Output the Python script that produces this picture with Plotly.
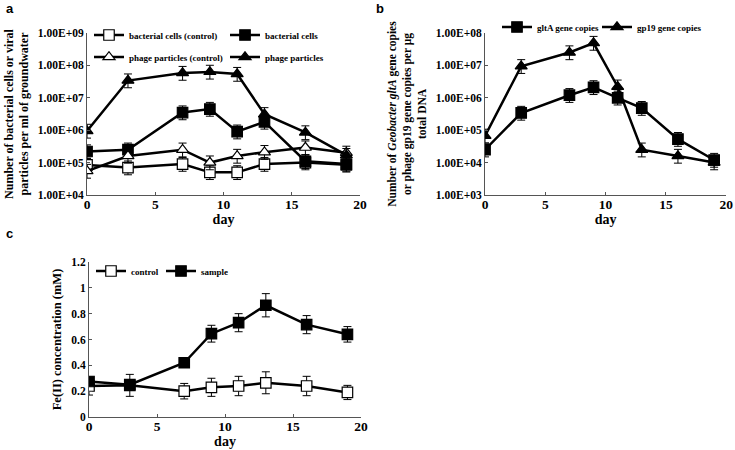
import plotly.graph_objects as go

# ---- data ----
days = [0, 3, 7, 9, 11, 13, 16, 19]

# panel a (cells or particles per ml groundwater)
bact_control = [8.5e4, 7.0e4, 9.0e4, 5.0e4, 5.0e4, 9.0e4, 1.0e5, 8.5e4]
bact_cells = [2.2e5, 2.5e5, 3.5e6, 4.5e6, 9.0e5, 1.8e6, 1.1e5, 9.0e4]
phage_control = [5.5e4, 1.6e5, 2.5e5, 1.0e5, 1.6e5, 2.1e5, 2.9e5, 2.0e5]
phage_particles = [9.5e5, 3.4e7, 5.8e7, 6.3e7, 5.4e7, 3.1e6, 8.5e5, 1.7e5]

# panel b (gene copies per ug DNA)
glta_copies = [2.5e4, 3.4e5, 1.2e6, 2.1e6, 1.0e6, 4.8e5, 5.3e4, 1.2e4]
gp19_copies = [6.7e4, 9.4e6, 2.5e7, 4.9e7, 2.2e6, 2.5e4, 1.6e4, 1.0e4]

# panel c (Fe(II) mM)
fe_control = [0.24, 0.245, 0.20, 0.23, 0.24, 0.265, 0.24, 0.19]
fe_control_err = [0.07, 0.085, 0.06, 0.07, 0.075, 0.085, 0.075, 0.055]
fe_sample = [0.275, 0.25, 0.42, 0.645, 0.73, 0.865, 0.715, 0.64]
fe_sample_err = [0.02, 0.02, 0.02, 0.065, 0.07, 0.09, 0.07, 0.06]

log_a_ticks = [1e4, 1e5, 1e6, 1e7, 1e8, 1e9]
log_a_text = ["1.00E+04", "1.00E+05", "1.00E+06", "1.00E+07", "1.00E+08", "1.00E+09"]
log_b_ticks = [1e3, 1e4, 1e5, 1e6, 1e7, 1e8]
log_b_text = ["1.00E+03", "1.00E+04", "1.00E+05", "1.00E+06", "1.00E+07", "1.00E+08"]
fe_ticks = [0, 0.2, 0.4, 0.6, 0.8, 1, 1.2]
fe_text = ["0", "0.2", "0.4", "0.6", "0.8", "1", "1.2"]
day_ticks = [0, 5, 10, 15, 20]

SERIF = "Liberation Serif"
LOG_ERR = dict(type="percent", value=60, valueminus=40, color="black", thickness=1, width=4)


def bold(labels):
    return ["<b>%s</b>" % t for t in labels]


def series(x, y, name, symbol, filled, xa, ya, legend, err=None):
    return go.Scatter(
        x=x, y=y, name="<b>%s</b>" % name, mode="lines+markers", xaxis=xa, yaxis=ya, legend=legend,
        line=dict(color="black", width=2.5),
        marker=dict(symbol=symbol, size=10.5, color="black" if filled else "white",
                    line=dict(color="black", width=1.2)),
        error_y=err,
    )


fig = go.Figure()
# panel a
fig.add_trace(series(days, bact_control, "bacterial cells (control)", "square", False, "x", "y", "legend", LOG_ERR))
fig.add_trace(series(days, bact_cells, "bacterial cells", "square", True, "x", "y", "legend", LOG_ERR))
fig.add_trace(series(days, phage_control, "phage particles (control)", "triangle-up", False, "x", "y", "legend2", LOG_ERR))
fig.add_trace(series(days, phage_particles, "phage particles", "triangle-up", True, "x", "y", "legend2", LOG_ERR))
# panel b
fig.add_trace(series(days, glta_copies, "gltA gene copies", "square", True, "x2", "y2", "legend3", LOG_ERR))
fig.add_trace(series(days, gp19_copies, "gp19 gene copies", "triangle-up", True, "x2", "y2", "legend5", LOG_ERR))
# panel c
fig.add_trace(series(days, fe_control, "control", "square", False, "x3", "y3", "legend4",
                     dict(type="data", array=fe_control_err, color="black", thickness=1, width=4)))
fig.add_trace(series(days, fe_sample, "sample", "square", True, "x3", "y3", "legend4",
                     dict(type="data", array=fe_sample_err, color="black", thickness=1, width=4)))

axis_common = dict(showline=True, linecolor="#555", linewidth=1, ticks="inside", ticklen=3,
                   tickcolor="#555", showgrid=False, zeroline=False, automargin=False)
x_common = dict(axis_common, range=[0, 20], tickvals=day_ticks, ticktext=bold(day_ticks),
                ticklabeloverflow="allow", ticklabelstandoff=-3,
                tickfont=dict(family=SERIF, size=13.5, color="black"))
day_title = dict(text="<b>day</b>", font=dict(family=SERIF, size=14, color="black"), standoff=2)
ytf = dict(family=SERIF, size=11.5, color="black")

fig.update_layout(
    width=735, height=450, margin=dict(l=0, r=0, t=0, b=0),
    paper_bgcolor="white", plot_bgcolor="white", showlegend=True,
    xaxis=dict(x_common, domain=[0.1184, 0.4898], anchor="y", title=day_title),
    yaxis=dict(axis_common, type="log", range=[4, 9], domain=[0.5667, 0.9267], anchor="x",
               tickvals=log_a_ticks, ticktext=bold(log_a_text), tickfont=ytf,
               title=dict(text="<b>Number of bacterial cells or viral<br>particles per ml of groundwater</b>",
                          font=dict(family=SERIF, size=12, color="black"), standoff=6)),
    xaxis2=dict(x_common, domain=[0.6599, 0.988], anchor="y2", title=day_title),
    yaxis2=dict(axis_common, type="log", range=[3, 8], domain=[0.5667, 0.9267], anchor="x2",
                tickvals=log_b_ticks, ticktext=bold(log_b_text), tickfont=ytf,
                title=dict(text="<b>Number of <i>Geobacter gltA</i> gene copies<br>or phage gp19 gene copies per μg<br>total DNA</b>",
                           font=dict(family=SERIF, size=11.5, color="black"), standoff=6)),
    xaxis3=dict(x_common, domain=[0.1211, 0.4912], anchor="y3", title=day_title),
    yaxis3=dict(axis_common, range=[0, 1.2], domain=[0.0733, 0.4178], anchor="x3",
                tickvals=fe_ticks, ticktext=bold(fe_text), tickfont=ytf,
                title=dict(text="<b>Fe(II) concentration (mM)</b>",
                           font=dict(family=SERIF, size=12.5, color="black"), standoff=6)),
)

leg_font = dict(family=SERIF, size=9, color="black")
leg_common = dict(orientation="h", font=leg_font, bgcolor="rgba(0,0,0,0)", xanchor="left", yanchor="middle",
                  itemclick=False, tracegroupgap=0, entrywidthmode="pixels")
fig.update_layout(
    legend=dict(leg_common, x=89 / 735, y=1 - 35 / 450, entrywidth=91),
    legend2=dict(leg_common, x=89 / 735, y=1 - 57 / 450, entrywidth=91),
    legend3=dict(leg_common, x=497 / 735, y=1 - 27 / 450),
    legend5=dict(leg_common, x=597 / 735, y=1 - 27 / 450),
    legend4=dict(leg_common, x=91 / 735, y=1 - 271 / 450, entrywidth=25),
)

for txt, x, y in [("a", 4, 8), ("b", 374, 8), ("c", 4, 233)]:
    fig.add_annotation(text="<b>%s</b>" % txt, x=x / 735, y=1 - y / 450, xref="paper", yref="paper",
                       xanchor="left", yanchor="middle", showarrow=False,
                       font=dict(family="Liberation Sans", size=13, color="black"))

fig.write_html("out.html", config={"displayModeBar": False},
               post_script="document.body.style.margin = '0';")
